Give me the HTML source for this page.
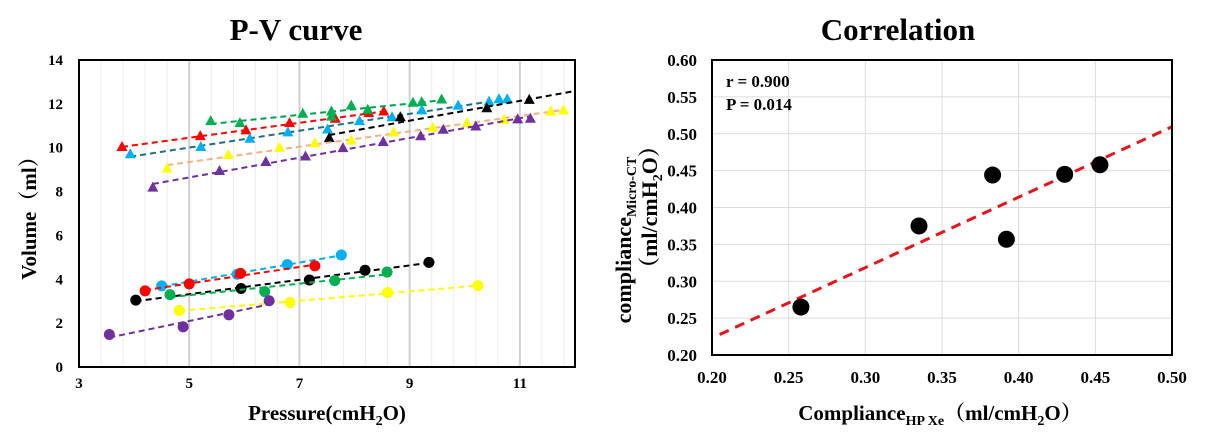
<!DOCTYPE html>
<html><head><meta charset="utf-8"><style>
body{margin:0;background:#fff}
svg{display:block;font-family:"Liberation Serif","Noto Serif CJK SC",serif;font-weight:bold}
</style></head><body>
<svg id="c" width="1205" height="436" viewBox="0 0 1205 436">
<text x="296" y="40" font-size="31" text-anchor="middle">P-V curve</text>
<text x="898" y="40" font-size="31" text-anchor="middle">Correlation</text>
<g id="L"></g>
<g id="R"></g>
<text x="327" y="420" font-size="21" text-anchor="middle">Pressure(cmH<tspan font-size="14" dy="5">2</tspan><tspan dy="-5">O)</tspan></text>
<text transform="translate(36,213) rotate(-90)" font-size="21" text-anchor="middle">Volume（ml）</text>
<text x="940" y="420" font-size="21" text-anchor="middle">Compliance<tspan font-size="14" dy="5">HP Xe</tspan><tspan dy="-5">（ml/cmH</tspan><tspan font-size="14" dy="5">2</tspan><tspan dy="-5">O）</tspan></text>
<text transform="translate(631,240) rotate(-90)" font-size="22" text-anchor="middle">compliance<tspan font-size="14" dy="5">Micro-CT</tspan></text>
<text transform="translate(657,207) rotate(-90)" font-size="22" text-anchor="middle">（ml/cmH<tspan font-size="14" dy="5">2</tspan><tspan dy="-5">O）</tspan></text>
<text x="726" y="87" font-size="17">r = 0.900</text>
<text x="726" y="110" font-size="17">P = 0.014</text>
</svg>
<script>
const NS="http://www.w3.org/2000/svg";
// ---- P-V data ----
const triRedX=[3.78,5.2,6.03,6.82,7.65,8.26,8.53];
const triRedY=[10.03,10.53,10.79,11.12,11.32,11.58,11.65];
const triGreenX=[5.39,5.92,7.06,7.58,7.58,7.94,8.24,9.06,9.22,9.58];
const triGreenY=[11.21,11.12,11.55,11.65,11.42,11.92,11.73,12.05,12.08,12.2];
const triBlueX=[3.93,5.21,6.1,6.79,7.51,8.09,8.68,9.22,9.88,10.44,10.62,10.77];
const triBlueY=[9.7,10.03,10.41,10.7,10.83,11.21,11.39,11.7,11.92,12.1,12.21,12.21];
const triBlackX=[7.54,8.83,10.4,11.17];
const triBlackY=[10.44,11.39,11.8,12.18];
const triYellowX=[4.6,5.71,6.64,7.28,7.94,8.71,9.42,10.04,10.71,11.56,11.79];
const triYellowY=[9.05,9.67,10.0,10.21,10.33,10.7,10.91,11.12,11.27,11.65,11.7];
const triPurpleX=[4.34,5.55,6.39,7.11,7.79,8.52,9.2,9.61,10.2,10.96,11.19];
const triPurpleY=[8.18,8.94,9.35,9.6,9.98,10.26,10.52,10.82,10.97,11.29,11.32];
const cirBlueX=[4.5,5.87,6.78,7.76];
const cirBlueY=[3.7,4.23,4.67,5.11];
const cirRedX=[4.2,5.0,5.93,7.28];
const cirRedY=[3.47,3.79,4.27,4.61];
const cirBlackX=[4.03,5.94,7.18,8.19,9.35];
const cirBlackY=[3.05,3.58,3.97,4.41,4.77];
const cirGreenX=[4.65,6.37,7.64,8.59];
const cirGreenY=[3.3,3.44,3.94,4.33];
const cirYellowX=[4.82,6.83,8.6,10.24];
const cirYellowY=[2.58,2.94,3.39,3.71];
const cirPurpleX=[3.55,4.89,5.72,6.45];
const cirPurpleY=[1.48,1.83,2.38,3.02];
const pvXTicks=[3,5,7,9,11];
const pvYTicks=[0,2,4,6,8,10,12,14];
// ---- correlation data ----
const hpXe=[0.258,0.335,0.383,0.392,0.430,0.453];
const microCT=[0.265,0.375,0.444,0.357,0.445,0.458];
const corrXTicks=[0.20,0.25,0.30,0.35,0.40,0.45,0.50];
const corrYTicks=[0.20,0.25,0.30,0.35,0.40,0.45,0.50,0.55,0.60];
const fitSlope=0.955, fitIntercept=0.032;

function mk(parent,tag,attrs){const e=document.createElementNS(NS,tag);for(const k in attrs)e.setAttribute(k,attrs[k]);parent.appendChild(e);return e;}
function fit(xs,ys){const n=xs.length;let sx=0,sy=0,sxx=0,sxy=0;for(let i=0;i<n;i++){sx+=xs[i];sy+=ys[i];sxx+=xs[i]*xs[i];sxy+=xs[i]*ys[i];}const b=(n*sxy-sx*sy)/(n*sxx-sx*sx);return [b,(sy-b*sx)/n];}

// ---- left chart ----
const L=document.getElementById('L');
const lx=v=>79+(v-3)*(496/9), ly=v=>367-v*(307/14);
for(let v=3.4;v<12;v+=0.4){if(Math.abs(v-Math.round(v))<0.01&&Math.round(v)%2==1)continue;const g=mk(L,'line',{x1:lx(v),x2:lx(v),y1:60,y2:367,stroke:'#ececec','stroke-width':1});

}
[5,7,9,11].forEach(v=>{const g=mk(L,'line',{x1:lx(v),x2:lx(v),y1:60,y2:367,stroke:'#d0d0d0','stroke-width':2});

});
pvXTicks.forEach(v=>{const t=mk(L,'text',{x:lx(v),y:388,'font-size':15,'text-anchor':'middle'});t.textContent=v;

});
pvYTicks.forEach(v=>{const t=mk(L,'text',{x:63,y:ly(v)+5,'font-size':15,'text-anchor':'end'});t.textContent=v;

});
const series=[
 ['tri-red',triRedX,triRedY,'#ff0000','#ff0000','t'],
 ['tri-green',triGreenX,triGreenY,'#00b050','#00a050','t'],
 ['tri-blue',triBlueX,triBlueY,'#00b0f0','#1f6e86','t'],
 ['tri-black',triBlackX,triBlackY,'#000000','#000000','t'],
 ['tri-yellow',triYellowX,triYellowY,'#ffff00','#f4b183','t'],
 ['tri-purple',triPurpleX,triPurpleY,'#7030a0','#7030a0','t'],
 ['cir-blue',cirBlueX,cirBlueY,'#00b0f0','#00b0f0','c'],
 ['cir-red',cirRedX,cirRedY,'#ff0000','#ff0000','c'],
 ['cir-black',cirBlackX,cirBlackY,'#000000','#000000','c'],
 ['cir-green',cirGreenX,cirGreenY,'#00b050','#00b050','c'],
 ['cir-yellow',cirYellowX,cirYellowY,'#ffff00','#ffff00','c'],
 ['cir-purple',cirPurpleX,cirPurpleY,'#7030a0','#7030a0','c']];
series.forEach(s=>{
 const [name,xs,ys,col,lc,shape]=s;
 const [b,a]=fit(xs,ys);
 let x0=Math.min(...xs),x1=Math.max(...xs);
 if(name==='tri-black')x1=12;
 const ln=mk(L,'line',{x1:lx(x0),y1:ly(a+b*x0),x2:lx(x1),y2:ly(a+b*x1),stroke:lc,'stroke-width':2,'stroke-dasharray':'6,4'});
 
 
 xs.forEach((x,i)=>{
  const px=lx(x),py=ly(ys[i]);let m;
  if(shape==='t')m=mk(L,'polygon',{points:`${px},${py-6} ${px-5.5},${py+4} ${px+5.5},${py+4}`,fill:col});
  else m=mk(L,'circle',{cx:px,cy:py,r:5.5,fill:col});
  
  
 });
});
const lb=mk(L,'rect',{x:79,y:60,width:496,height:307,fill:'none',stroke:'#000','stroke-width':2});



// ---- right chart ----
const R=document.getElementById('R');
const rx=v=>712+(v-0.2)*(460/0.3), ry=v=>355-(v-0.2)*(295/0.4);
corrXTicks.forEach(v=>{const g=mk(R,'line',{x1:rx(v),x2:rx(v),y1:60,y2:355,stroke:'#dcdcdc','stroke-width':1});


const t=mk(R,'text',{x:rx(v),y:383,'font-size':17,'text-anchor':'middle'});t.textContent=v.toFixed(2);

});
corrYTicks.forEach(v=>{const g=mk(R,'line',{x1:712,x2:1172,y1:ry(v),y2:ry(v),stroke:'#dcdcdc','stroke-width':1});


const t=mk(R,'text',{x:697,y:ry(v)+6,'font-size':17,'text-anchor':'end'});t.textContent=v.toFixed(2);

});
const fl=mk(R,'line',{x1:rx(0.205),y1:ry(fitIntercept+fitSlope*0.205),x2:rx(0.5),y2:ry(fitIntercept+fitSlope*0.5),stroke:'#e8141c','stroke-width':3,'stroke-dasharray':'10,7'});


hpXe.forEach((x,i)=>{const c=mk(R,'circle',{cx:rx(x),cy:ry(microCT[i]),r:8.5,fill:'#000'});

});
const rb=mk(R,'rect',{x:712,y:60,width:460,height:295,fill:'none',stroke:'#000','stroke-width':2});


</script>
</body></html>
